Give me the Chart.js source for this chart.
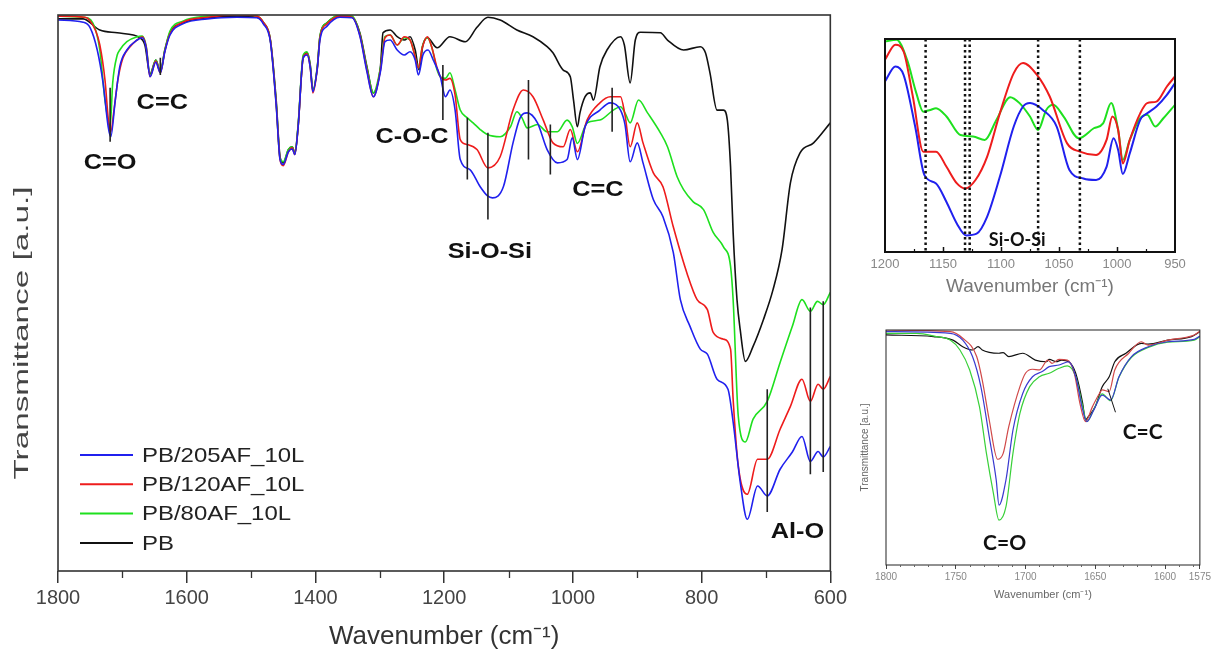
<!DOCTYPE html>
<html>
<head>
<meta charset="utf-8">
<script src="https://cdn.jsdelivr.net/npm/chart.js@4.4.1/dist/chart.umd.min.js"></script>
<style>
  html, body { margin: 0; padding: 0; background: #ffffff; }
  body { width: 1213px; height: 657px; position: relative; overflow: hidden; }
  canvas { position: absolute; }
  #main { left: 0px; top: 0px; }
  #ins1 { left: 860px; top: 20px; }
  #ins2 { left: 850px; top: 320px; }
</style>
</head>
<body>
<canvas id="main" width="850" height="657"></canvas>
<canvas id="ins1" width="353" height="290"></canvas>
<canvas id="ins2" width="363" height="290"></canvas>
<script>
// ================= MAIN SPECTRUM (wavenumber cm-1 / transmittance a.u.) =================
const seriesNames = ['PB/205AF_10L', 'PB/120AF_10L', 'PB/80AF_10L', 'PB'];

const pbWn = [1800,1761,1735,1708,1683,1676,1665,1657,1648,1641,
              1634,1626,1606,1568,1522,1491,1481,1470,1461,1455,
              1450,1442,1436,1432,1427,1419,1413,1408,1404,1397,
              1393,1382,1362,1343,1331,1320,1310,1299,1295,1284,
              1273,1262,1253,1245,1239,1233,1226,1211,1191,1167,
              1149,1132,1113,1087,1062,1040,1031,1015,1004,999,
              993,989,981,973,968,958,947,926,920,911,
              903,895,864,853,828,802,794,787,776,766,
              760,755,751,745,740,732,720,704,689,675,
              662,647,626,600];
const pbT  = [99.3,99.3,97.3,96.8,96.4,96.1,94.6,89.4,91.9,89.8,
              93.7,96.8,98.6,99.5,99.8,99.6,98.6,95.5,84.7,74.5,
              73.4,75.8,76.3,75.2,79.9,92.5,93.2,91.0,86.5,90.7,
              96.1,98.6,99.8,99.6,96.8,90.7,86.0,90.7,96.8,97.3,
              96.1,95.5,96.1,93.7,90.1,94.6,95.9,94.1,96.1,95.2,
              97.8,99.6,99.1,97.3,96.1,94.3,93.2,90.1,88.9,84.7,
              79.9,82.4,85.3,86.0,84.7,90.7,93.7,96.1,94.6,87.8,
              95.5,96.9,96.8,95.5,93.7,94.3,93.2,89.6,82.9,82.9,
              81.1,72.7,60.9,48.8,43.4,37.7,40.4,45.2,50.6,57.8,
              69.8,75.2,77.0,80.6];

const af205Wn = [1800,1761,1750,1739,1730,1722,1718,1711,1704,1693,
                 1677,1669,1663,1657,1648,1641,1634,1626,1606,1568,
                 1522,1491,1481,1470,1461,1455,1450,1442,1436,1432,
                 1427,1419,1413,1408,1404,1397,1393,1382,1362,1343,
                 1331,1320,1310,1299,1292,1284,1273,1262,1253,1245,
                 1240,1233,1225,1217,1206,1198,1191,1183,1175,1160,
                 1144,1133,1125,1108,1093,1082,1071,1055,1040,1024,
                 1009,1001,993,981,958,942,926,919,911,900,
                 891,875,860,844,833,818,802,791,776,759,
                 751,740,729,713,698,678,659,644,631,619,
                 611,600];
const af205T  = [99.1,98.7,97.7,93.7,87.8,79.9,78.1,84.7,90.7,93.7,
                 95.5,95.9,94.1,88.9,91.5,89.6,93.4,96.4,98.4,99.3,
                 99.6,99.5,98.4,95.2,83.8,74.0,73.1,75.4,75.9,74.9,
                 79.7,92.3,92.8,90.5,86.2,90.5,95.5,98.0,99.6,99.5,
                 96.2,89.8,85.3,89.8,95.2,95.5,93.7,92.8,93.4,91.9,
                 89.2,92.8,93.7,91.9,88.9,85.3,86.5,82.9,74.0,72.2,
                 69.1,67.5,67.1,69.1,77.0,81.5,82.4,80.6,75.8,73.4,
                 74.0,77.9,74.0,79.9,82.9,84.2,82.9,80.3,73.6,77.0,
                 73.4,66.8,63.7,57.3,48.8,44.0,39.9,39.0,34.5,32.7,
                 26.8,16.0,9.3,15.3,13.5,18.3,21.4,24.2,19.7,21.5,
                 20.5,22.4];

const af120Wn = [1800,1758,1742,1735,1727,1721,1718,1713,1707,1699,
                 1688,1677,1669,1663,1657,1648,1641,1634,1626,1606,
                 1568,1522,1491,1481,1470,1461,1455,1450,1442,1436,
                 1432,1427,1419,1413,1408,1404,1397,1393,1382,1362,
                 1343,1331,1320,1310,1299,1292,1284,1273,1262,1253,
                 1247,1240,1234,1226,1219,1211,1206,1198,1191,1183,
                 1175,1164,1149,1132,1113,1093,1077,1062,1046,1031,
                 1015,1004,993,978,958,942,926,919,911,900,
                 891,875,860,844,822,807,791,782,766,755,
                 751,743,729,713,698,678,662,644,631,619,
                 611,600];
const af120T  = [99.8,99.6,97.3,94.6,88.3,80.3,79.0,82.9,88.3,92.3,
                 94.3,95.5,96.1,94.3,88.9,91.7,89.6,93.5,96.6,98.7,
                 99.6,100,99.8,98.7,95.5,84.0,74.0,72.9,75.4,76.1,
                 74.9,79.7,92.3,93.0,90.5,86.0,90.5,95.9,98.4,99.8,
                 99.6,96.4,90.1,85.3,90.1,95.9,96.4,94.6,96.1,95.5,
                 93.4,90.5,94.1,96.1,94.1,90.5,88.9,88.3,88.6,85.6,
                 77.6,76.7,75.8,72.5,74.5,82.9,86.5,85.3,81.1,77.0,
                 76.3,79.4,75.4,81.1,84.2,85.3,85.3,82.0,76.3,80.6,
                 77.0,71.6,69.1,61.9,53.3,48.8,47.0,42.9,41.7,39.9,
                 30.9,18.9,13.8,20.1,20.1,25.5,29.6,34.5,30.5,33.6,
                 32.7,35.0];

const af80Wn = [1800,1761,1746,1735,1727,1719,1715,1708,1704,1693,
                1677,1669,1663,1657,1648,1641,1634,1626,1606,1568,
                1522,1491,1481,1470,1461,1455,1450,1442,1436,1432,
                1427,1419,1413,1408,1404,1397,1393,1382,1362,1343,
                1331,1320,1310,1299,1292,1284,1273,1262,1253,1247,
                1240,1234,1226,1219,1211,1206,1198,1191,1183,1175,
                1164,1155,1144,1133,1113,1097,1087,1079,1071,1055,
                1040,1024,1009,1001,993,978,958,937,926,919,
                911,898,884,864,853,838,828,813,797,782,
                766,755,751,743,732,720,698,678,659,644,
                631,620,611,600];
const af80T  = [99.8,99.6,98.6,93.7,84.7,79.9,87.8,92.8,93.7,95.2,
                96.1,96.2,94.4,89.2,91.9,89.8,93.7,97.1,98.9,99.8,
                100,99.8,98.7,95.5,84.2,74.3,73.6,75.8,76.3,75.0,
                80.1,92.8,93.4,90.8,86.4,90.8,96.2,98.6,100,99.8,
                96.6,90.5,86.0,90.5,96.1,96.4,94.6,95.9,95.5,93.4,
                90.5,94.3,95.9,94.1,90.1,88.9,88.6,89.6,86.5,82.9,
                81.5,80.6,79.4,78.5,78.1,79.9,82.6,81.5,79.7,80.3,
                79.0,79.0,81.1,79.9,76.9,80.6,81.1,82.9,83.5,82.4,
                80.6,84.7,82.4,78.8,76.3,70.9,68.6,66.4,65.0,60.9,
                58.3,54.8,48.8,27.8,23.2,27.3,30.5,37.5,44.0,48.8,
                46.7,48.5,47.9,50.1];

const mainTicks = [1800, 1600, 1400, 1200, 1000, 800, 600];
const mainMinorTicks = [1700, 1500, 1300, 1100, 900, 700];

// band markers (vertical bars) and band labels, in data units
const markWn     = [1719, 1641, 1202, 1164, 1132, 1069, 1035, 939, 698, 631, 611];
const markTop    = [86.9, 92.3, 91.0, 81.5, 78.8, 88.3, 80.3, 86.9, 32.7, 47.4, 48.5];
const markBottom = [77.2, 89.2, 81.1, 70.4, 63.2, 74.0, 71.3, 79.0, 10.6, 17.4, 17.8];
const labelText  = ['C=O', 'C=C', 'C-O-C', 'Si-O-Si', 'C=C', 'Al-O'];
const labelWn    = [1719, 1638, 1250, 1129, 961, 651];
const labelT     = [73.4, 84.2, 78.0, 57.3, 68.6, 7.0];

// ================= INSET 1 : Si-O-Si region =================
const si205Wn = [1200,1191,1184,1174,1166,1156,1147,1138,1130,1121,
                 1112,1101,1089,1081,1075,1064,1052,1041,1029,1018,
                 1009,1003,999,995,989,980,974,966,957,950];
const si205T  = [80.1,87.1,83.2,58.9,36.1,32.2,23.5,13.3,7.8,8.6,
                 16.5,35.3,58.9,68.3,69.9,66.7,58.9,38.5,34.5,33.8,
                 40.0,53.4,47.9,36.6,46.3,62.0,65.1,68.3,73.8,79.3];
const si120Wn = [1200,1191,1184,1176,1167,1156,1147,1138,1131,1122,
                 1112,1101,1089,1081,1069,1058,1043,1032,1018,1009,
                 1004,999,995,989,980,974,966,957,950];
const si120T  = [90.3,97.3,94.2,73.0,47.1,47.1,40.0,32.2,29.8,33.8,
                 44.7,65.1,84.0,88.7,83.2,73.0,51.0,47.1,45.5,52.6,
                 63.6,57.3,41.6,52.6,65.1,69.9,70.6,77.7,82.4];
const si80Wn  = [1200,1190,1181,1173,1167,1161,1156,1147,1135,1124,
                 1114,1104,1092,1084,1075,1068,1061,1055,1046,1033,
                 1020,1012,1005,999,995,989,980,974,967,960,950];
const si80T   = [98.9,99.7,90.3,74.6,65.9,66.7,67.5,63.6,54.9,54.2,
                 52.6,62.0,72.7,69.9,63.6,57.3,66.7,69.1,63.6,53.4,
                 58.1,60.4,69.9,57.3,43.2,52.6,62.8,64.4,58.9,62.8,69.1];
const siTicks      = [1200, 1150, 1100, 1050, 1000, 950];
const siInnerTicks = [1150, 1100, 1050, 1000];
const siInnerMinor = [1175, 1125, 1075, 1025, 975];
const siDotted     = [1165, 1131, 1127, 1068, 1032];
const siLabelText = ['Si-O-Si'];
const siLabelWn   = [1086];
const siLabelT    = [5.5];

// ================= INSET 2 : C=O / C=C region =================
const co205Wn = [1800,1754,1745,1738,1732,1726,1721,1719,1714,1709,
                 1702,1695,1688,1683,1676,1669,1664,1659,1656,1651,
                 1645,1639,1633,1624,1612,1598,1579,1575];
const co205T  = [99.3,98.6,95.7,88.7,75.9,54.6,36.2,25.5,36.2,57.4,
                 73.0,80.1,82.3,84.4,85.1,86.5,80.1,66.0,61.0,66.0,
                 72.3,70.2,80.1,88.7,92.9,95.0,96.0,97.4];
const co120Wn = [1800,1754,1745,1735,1731,1726,1720,1716,1712,1704,
                 1700,1695,1690,1684,1681,1676,1670,1665,1661,1657,
                 1652,1647,1645,1640,1636,1626,1617,1612,1598,1579,1575];
const co120T  = [100,99.3,96.5,88.7,78.7,61.7,45.0,47.5,58.9,75.9,
                 81.6,83.3,83.0,87.2,85.8,87.5,87.2,81.6,68.8,61.0,
                 67.4,73.0,74.5,73.8,83.0,90.1,95.0,93.6,95.7,97.9,99.5];
const co80Wn  = [1800,1778,1764,1754,1747,1740,1733,1728,1723,1719,
                 1714,1709,1704,1697,1690,1683,1676,1670,1664,1659,
                 1656,1651,1645,1639,1633,1624,1612,1598,1579,1575];
const co80T   = [98.6,98.6,97.2,95.7,91.5,83.0,67.4,47.5,30.5,19.1,
                 24.8,47.5,64.5,75.9,80.1,81.6,83.7,84.7,80.1,67.4,
                 61.0,66.2,72.8,69.9,79.9,88.4,92.6,94.8,95.7,97.2];
const coPbWn  = [1800,1766,1752,1745,1738,1734,1731,1726,1719,1716,
                 1712,1702,1693,1685,1683,1678,1674,1669,1664,1659,
                 1657,1655,1650,1645,1640,1636,1628,1617,1612,1598,
                 1581,1575];
const coPbT   = [97.9,97.2,95.7,92.9,91.5,92.9,91.5,90.5,90.1,90.4,
                 88.7,90.1,87.2,86.5,87.5,86.5,87.2,86.5,81.6,68.8,
                 61.7,63.1,67.4,75.9,80.1,86.5,90.1,94.3,94.0,95.7,
                 97.2,99.3];
const coTicks      = [1800, 1750, 1700, 1650, 1600, 1575];
const coMinorTicks = [1790,1780,1770,1760,1740,1730,1720,1710,1690,1680,
                      1670,1660,1640,1630,1620,1610,1590,1580];
const coMarkWn  = [1641];
const coMarkWn2 = [1635.5];
const coMarkTop = [75.0];
const coMarkBot = [65.0];
const coLabelText = ['C=O', 'C=C'];
const coLabelWn   = [1715, 1616];
const coLabelT    = [9.4, 56.6];

// ================= helpers =================
const SANS = "'Liberation Sans', Arial, sans-serif";
const toXY = (wn, t) => wn.map((w, i) => ({ x: w, y: t[i] }));
const plain = v => String(v);
const ds = (label, wn, t, color, width) => ({
  label, data: toXY(wn, t), borderColor: color, backgroundColor: color,
  borderWidth: width, pointRadius: 0, fill: false, cubicInterpolationMode: 'monotone'
});

function framePlugin(color, width) {
  return { id: 'frame', afterDatasetsDraw(chart) {
    const { ctx, chartArea: a } = chart;
    ctx.save(); ctx.strokeStyle = color; ctx.lineWidth = width;
    ctx.strokeRect(a.left, a.top, a.right - a.left, a.bottom - a.top);
    ctx.restore();
  } };
}
function tickPlugin(values, len, dir, color, width) {
  return { id: 'xticks' + len + dir, afterDatasetsDraw(chart) {
    const { ctx, chartArea: a } = chart; const xs = chart.scales.x;
    ctx.save(); ctx.strokeStyle = color; ctx.lineWidth = width; ctx.beginPath();
    values.forEach(v => { const px = Math.round(xs.getPixelForValue(v)) + 0.5;
      ctx.moveTo(px, a.bottom); ctx.lineTo(px, a.bottom + dir * len); });
    ctx.stroke(); ctx.restore();
  } };
}
function marksPlugin(cfg) {
  return { id: 'marks', afterDatasetsDraw(chart) {
    const { ctx } = chart; const xs = chart.scales.x, ys = chart.scales.y;
    ctx.save();
    if (cfg.lineX) {
      ctx.strokeStyle = cfg.lineColor; ctx.lineWidth = cfg.lineWidth; ctx.beginPath();
      cfg.lineX.forEach((w, i) => {
        const x1 = xs.getPixelForValue(w);
        const x2 = cfg.lineX2 ? xs.getPixelForValue(cfg.lineX2[i]) : x1;
        ctx.moveTo(x1, ys.getPixelForValue(cfg.lineTop[i]));
        ctx.lineTo(x2, ys.getPixelForValue(cfg.lineBottom[i]));
      });
      ctx.stroke();
    }
    if (cfg.text) {
      ctx.fillStyle = cfg.textColor; ctx.font = cfg.font;
      ctx.textAlign = 'center'; ctx.textBaseline = 'middle';
      cfg.text.forEach((t, i) => {
        ctx.save();
        ctx.translate(xs.getPixelForValue(cfg.textX[i]), ys.getPixelForValue(cfg.textY[i]));
        ctx.scale(cfg.sx || 1, 1);
        ctx.fillText(t, 0, 0);
        ctx.restore();
      });
    }
    ctx.restore();
  } };
}
function dottedPlugin(values, color, width, dash) {
  return { id: 'dotted', afterDatasetsDraw(chart) {
    const { ctx, chartArea: a } = chart; const xs = chart.scales.x;
    ctx.save(); ctx.strokeStyle = color; ctx.lineWidth = width; ctx.setLineDash(dash);
    values.forEach(v => { const px = xs.getPixelForValue(v);
      ctx.beginPath(); ctx.moveTo(px, a.top); ctx.lineTo(px, a.bottom); ctx.stroke(); });
    ctx.restore();
  } };
}
const legendPlugin = { id: 'plotLegend', afterDatasetsDraw(chart) {
  const { ctx } = chart;
  ctx.save();
  ctx.font = '21px ' + SANS; ctx.textBaseline = 'middle'; ctx.textAlign = 'left';
  chart.data.datasets.forEach((d, i) => {
    const y = 455 + i * 29.3;
    ctx.strokeStyle = d.borderColor; ctx.lineWidth = 2;
    ctx.beginPath(); ctx.moveTo(80, y); ctx.lineTo(133, y); ctx.stroke();
    ctx.save(); ctx.translate(142, y + 1); ctx.scale(1.14, 1);
    ctx.fillStyle = '#222'; ctx.fillText(d.label, 0, 0); ctx.restore();
  });
  ctx.restore();
} };
const yTitlePlugin = { id: 'yTitle', afterDraw(chart) {
  const { ctx } = chart; const text = 'Transmittance [a.u.]';
  ctx.save();
  ctx.font = '21px ' + SANS; ctx.fillStyle = '#444';
  ctx.textAlign = 'center'; ctx.textBaseline = 'middle';
  ctx.translate(22, 333); ctx.rotate(-Math.PI / 2);
  const w = ctx.measureText(text).width;
  ctx.scale(293 / w, 1);
  ctx.fillText(text, 0, 0);
  ctx.restore();
} };

const common = { responsive: false, animation: false, devicePixelRatio: 1,
  events: [], plugins: { legend: { display: false }, tooltip: { enabled: false } } };

// ================= MAIN CHART =================
new Chart(document.getElementById('main'), {
  type: 'line',
  data: { datasets: [
    ds(seriesNames[0], af205Wn, af205T, '#2020ee', 1.6),
    ds(seriesNames[1], af120Wn, af120T, '#ee1c1c', 1.6),
    ds(seriesNames[2], af80Wn,  af80T,  '#1ee01e', 1.6),
    ds(seriesNames[3], pbWn,    pbT,    '#111111', 1.6)
  ] },
  options: Object.assign({}, common, {
    layout: { padding: { top: 15, right: 19, left: 0, bottom: 0 } },
    scales: {
      x: { type: 'linear', min: 600, max: 1800, reverse: true,
        afterFit(s) { s.height = 86; },
        afterBuildTicks(s) { s.ticks = mainTicks.map(v => ({ value: v })); },
        ticks: { callback: plain, font: { family: SANS, size: 20 }, color: '#444', padding: 3, maxRotation: 0, autoSkip: false },
        grid: { drawOnChartArea: false, tickLength: 12, color: '#333', lineWidth: 1.5 },
        border: { display: false },
        title: { display: true, text: 'Wavenumber (cm\u207B\u00B9)', color: '#333',
          font: { family: SANS, size: 26 }, padding: { top: 0, bottom: 5 } } },
      y: { type: 'linear', min: 0, max: 100,
        afterFit(s) { s.width = 58; },
        ticks: { display: false }, grid: { display: false }, border: { display: false } }
    }
  }),
  plugins: [
    framePlugin('#333', 1.6),
    tickPlugin(mainMinorTicks, 7, 1, '#333', 1.3),
    marksPlugin({ lineX: markWn, lineTop: markTop, lineBottom: markBottom, lineColor: '#222', lineWidth: 1.6,
      text: labelText, textX: labelWn, textY: labelT, textColor: '#111',
      font: 'bold 22px ' + SANS, sx: 1.15 }),
    legendPlugin, yTitlePlugin
  ]
});

// ================= INSET 1 =================
new Chart(document.getElementById('ins1'), {
  type: 'line',
  data: { datasets: [
    ds(seriesNames[0], si205Wn, si205T, '#2020ee', 2),
    ds(seriesNames[1], si120Wn, si120T, '#ee1c1c', 2),
    ds(seriesNames[2], si80Wn,  si80T,  '#1ee01e', 2)
  ] },
  options: Object.assign({}, common, {
    layout: { padding: { top: 19, right: 38, left: 0, bottom: 0 } },
    scales: {
      x: { type: 'linear', min: 950, max: 1200, reverse: true,
        afterFit(s) { s.height = 58; },
        afterBuildTicks(s) { s.ticks = siTicks.map(v => ({ value: v })); },
        ticks: { callback: plain, font: { family: SANS, size: 13 }, color: '#888', padding: 5, maxRotation: 0, autoSkip: false },
        grid: { display: false, drawTicks: false },
        border: { display: false },
        title: { display: true, text: 'Wavenumber (cm\u207B\u00B9)', color: '#777',
          font: { family: SANS, size: 19 }, padding: { top: 0, bottom: 12 } } },
      y: { type: 'linear', min: 0, max: 100,
        afterFit(s) { s.width = 25; },
        ticks: { display: false }, grid: { display: false }, border: { display: false } }
    }
  }),
  plugins: [
    dottedPlugin(siDotted, '#111', 2.5, [2.5, 3]),
    framePlugin('#111', 2),
    tickPlugin(siInnerTicks, 5, -1, '#111', 1.5),
    tickPlugin(siInnerMinor, 3, -1, '#111', 1.2),
    marksPlugin({ text: siLabelText, textX: siLabelWn, textY: siLabelT, textColor: '#111',
      font: "bold 18px Lato, 'Open Sans', sans-serif" })
  ]
});

// ================= INSET 2 =================
new Chart(document.getElementById('ins2'), {
  type: 'line',
  data: { datasets: [
    ds(seriesNames[0], co205Wn, co205T, '#3a3ad0', 1.2),
    ds(seriesNames[1], co120Wn, co120T, '#d04848', 1.2),
    ds(seriesNames[2], co80Wn,  co80T,  '#38d038', 1.2),
    ds(seriesNames[3], coPbWn,  coPbT,  '#111111', 1.2)
  ] },
  options: Object.assign({}, common, {
    layout: { padding: { top: 10, right: 11, left: 0, bottom: 0 } },
    scales: {
      x: { type: 'linear', min: 1575, max: 1800, reverse: true,
        afterFit(s) { s.height = 45; },
        afterBuildTicks(s) { s.ticks = coTicks.map(v => ({ value: v })); },
        ticks: { callback: plain, font: { family: SANS, size: 10 }, color: '#888', padding: 2, maxRotation: 0, autoSkip: false },
        grid: { drawOnChartArea: false, tickLength: 4, color: '#444', lineWidth: 1 },
        border: { display: false },
        title: { display: true, text: 'Wavenumber (cm\u207B\u00B9)', color: '#666',
          font: { family: SANS, size: 11 }, padding: { top: 0, bottom: 8 } } },
      y: { type: 'linear', min: 0, max: 100,
        afterFit(s) { s.width = 36; },
        ticks: { display: false }, grid: { display: false }, border: { display: false },
        title: { display: true, text: 'Transmittance [a.u.]', color: '#666',
          font: { family: SANS, size: 10 }, padding: { top: 9, bottom: 0 } } }
    }
  }),
  plugins: [
    framePlugin('#222', 1),
    tickPlugin(coMinorTicks, 2, 1, '#666', 1),
    marksPlugin({ lineX: coMarkWn, lineX2: coMarkWn2, lineTop: coMarkTop, lineBottom: coMarkBot,
      lineColor: '#111', lineWidth: 1,
      text: coLabelText, textX: coLabelWn, textY: coLabelT, textColor: '#111',
      font: "bold 21px Lato, 'Open Sans', sans-serif" })
  ]
});
</script>
</body>
</html>
